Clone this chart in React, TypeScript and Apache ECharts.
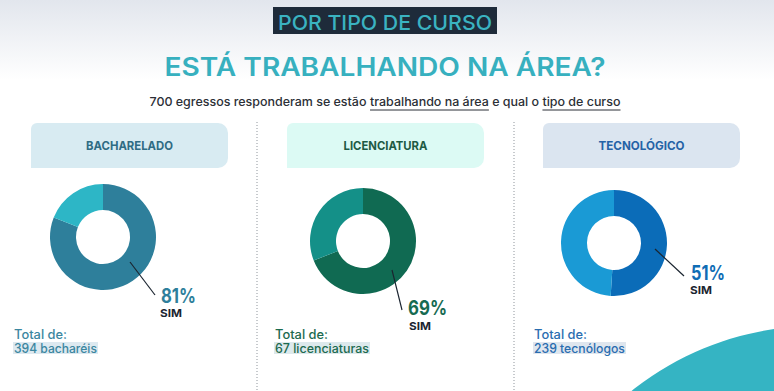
import React, { useEffect, useRef } from "react";
import * as echarts from "echarts";

// ---- data ----
const cursos = ["BACHARELADO", "LICENCIATURA", "TECNOLÓGICO"];
const simPct = [81, 69, 51];
const naoPct = [19, 31, 49];
const totais = [394, 67, 239];
const totalNomes = ["bacharéis", "licenciaturas", "tecnólogos"];
const respondentes = 700;

// ---- style / layout ----
const FONT = "Inter";
const simColors = ["#2e7f9b", "#106a52", "#0b6cb8"];
const naoColors = ["#2db6c6", "#149088", "#1a9ad5"];
const headerFills = ["#d8ebf2", "#dcfaf4", "#dbe5f0"];
const headerText = ["#2f6c84", "#1e5b44", "#2562a6"];
const pctColors = ["#2e7f9b", "#166b52", "#0f6db5"];
const totalColors = ["#3b86a0", "#1c6a4f", "#2a6db0"];
const hiFills = ["#dde9f0", "#dde9ec", "#dfe6ee"];
const centers = [[103, 237], [363, 241], [614, 243]];
const headerX = [31, 287, 543];
const headerW = [87, 84, 86];
const lineStart = [[27, 25], [29, 29], [41, 6]];
const lineEnd = [[52, 58], [39, 69], [70, 33]];
const pctPos = [[161, 295], [408, 307.5], [691, 272]];
const pctW = [35, 39, 34];
const simPos = [[160, 313], [409, 326], [690, 290]];
const totalX = [14, 275, 534];
const totalW = [83, 94, 91];

function measure(text: string, font: string) {
  const c = document.createElement("canvas").getContext("2d")!;
  c.font = font;
  return c.measureText(text).width;
}

function txt(text: string, x: number, y: number, size: number, weight: number, fill: string, align: string, target?: number, z = 5) {
  const w = measure(text, `${weight} ${size}px ${FONT}`);
  const sx = target ? target / w : 1;
  return {
    type: "text", x, y, scaleX: sx, z,
    style: { text, fontFamily: FONT, fontSize: size, fontWeight: weight, fill, align, verticalAlign: "middle", lineHeight: Math.round(size * 0.9) },
  };
}

export default function App() {
  const ref = useRef<HTMLDivElement>(null);
  useEffect(() => {
    document.body.style.margin = "0";
    const chart = echarts.init(ref.current!, null, { renderer: "svg" });
    const g: any[] = [];
    g.push({
      type: "rect", z: -10, shape: { x: 0, y: 0, width: 774, height: 80 },
      style: { fill: new echarts.graphic.LinearGradient(0, 0, 0, 1, [
        { offset: 0, color: "#e2e6ed" }, { offset: 1, color: "#ffffff" }]) },
    });
    g.push({ type: "circle", z: -5, shape: { cx: 817, cy: 623, r: 297 }, style: { fill: "#35b4c3" } });
    g.push({ type: "rect", shape: { x: 273, y: 7, width: 224, height: 27 }, style: { fill: "#1e2b3a" } });
    g.push(txt("POR TIPO DE CURSO", 385, 22.5, 20, 500, "#3ab3c1", "center", 214));
    g.push(txt("ESTÁ TRABALHANDO NA ÁREA?", 385, 67, 25, 600, "#37b0bf", "center", 441));
    // subtitle with underlines
    const subFont = `500 12px ${FONT}`;
    const segs: [string, boolean][] = [
      [`${respondentes} egressos responderam se estão `, false],
      ["trabalhando na área", true],
      [" e qual o ", false],
      ["tipo de curso", true],
    ];
    const widths = segs.map(([t]) => measure(t, subFont));
    const total = widths.reduce((a, b) => a + b, 0);
    const k = 471 / total;
    let sx = 385 - 471 / 2;
    segs.forEach(([t, u], i) => {
      const w = widths[i] * k;
      g.push(txt(t, sx, 102, 12, 500, "#2b2f36", "left", w));
      if (u) g.push({ type: "line", shape: { x1: sx, y1: 110, x2: sx + w, y2: 110 }, style: { stroke: "#2b2f36", lineWidth: 1 } });
      sx += w;
    });
    [257, 514].forEach((x) => g.push({ type: "line", shape: { x1: x, y1: 122, x2: x, y2: 391 }, style: { stroke: "#8f959c", lineWidth: 1, lineDash: [1, 2] } }));
    cursos.forEach((c, i) => {
      g.push({ type: "rect", shape: { x: headerX[i], y: 123, width: 197, height: 45, r: [6, 10, 10, 0] }, style: { fill: headerFills[i] } });
      g.push(txt(c, headerX[i] + 98.5, 146, 12, 700, headerText[i], "center", headerW[i]));
      const [cx, cy] = centers[i];
      g.push({ type: "line", z: 10, shape: { x1: cx + lineStart[i][0], y1: cy + lineStart[i][1], x2: cx + lineEnd[i][0], y2: cy + lineEnd[i][1] }, style: { stroke: "#1b2530", lineWidth: 1.2 } });
      g.push(txt(`${simPct[i]}%`, pctPos[i][0], pctPos[i][1], 20, 700, pctColors[i], "left", pctW[i]));
      g.push(txt("SIM", simPos[i][0], simPos[i][1], 11, 700, "#1b2530", "left", 22));
      const line2 = `${totais[i]} ${totalNomes[i]}`;
      g.push({ type: "rect", shape: { x: totalX[i] - 1, y: 342, width: totalW[i] + 2, height: 12 }, style: { fill: hiFills[i] } });
      g.push(txt("Total de:", totalX[i], 334.5, 12.5, 500, totalColors[i], "left", 53));
      g.push(txt(line2, totalX[i], 348, 12.5, 500, totalColors[i], "left", totalW[i]));
    });

    const series = cursos.map((c, i) => ({
      type: "pie",
      name: c,
      center: centers[i],
      radius: [27, 53],
      startAngle: 90,
      clockwise: true,
      label: { show: false },
      labelLine: { show: false },
      emphasis: { disabled: true },
      itemStyle: { borderWidth: 0 },
      data: [
        { name: "SIM", value: simPct[i], itemStyle: { color: simColors[i] } },
        { name: "NÃO", value: naoPct[i], itemStyle: { color: naoColors[i] } },
      ],
    }));

    chart.setOption({ animation: false, backgroundColor: "#ffffff", graphic: g, series });
    return () => chart.dispose();
  }, []);
  return <div ref={ref} style={{ width: 774, height: 391 }} />;
}
